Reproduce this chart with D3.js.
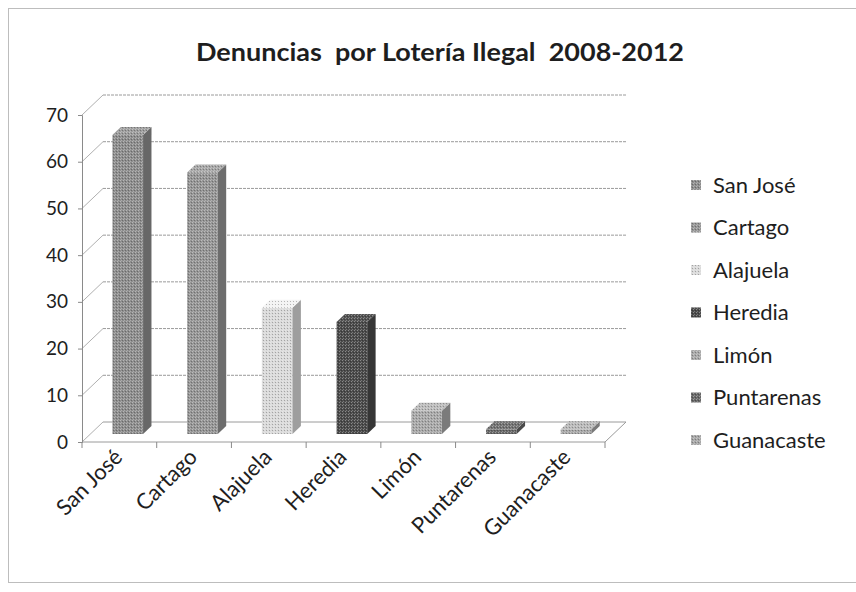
<!DOCTYPE html>
<html>
<head>
<meta charset="utf-8">
<script src="https://cdn.jsdelivr.net/npm/d3@7"></script>
<style>
  html, body { margin: 0; padding: 0; background: #fff; }
  svg { display: block; }
  text { font-family: Lato, "Open Sans", sans-serif; fill: #1e1e1e; }
</style>
</head>
<body>
<svg id="chart" width="856" height="592"></svg>
<script>
// ---- data ----
const title = "Denuncias  por Lotería Ilegal  2008-2012";
const categories = ["San José", "Cartago", "Alajuela", "Heredia", "Limón", "Puntarenas", "Guanacaste"];
const values = [64, 56, 27, 24, 5, 1, 1];
const yTicks = [0, 10, 20, 30, 40, 50, 60, 70];
const colors = ["#8e8e8e", "#969696", "#dadada", "#4b4b4b", "#a9a9a9", "#686868", "#a7a7a7"];

// ---- layout ----
const svg = d3.select("#chart");
const frontLeft = 82, frontRight = 605, frontBottom = 442, frontTop = 115;
const depthX = 21, depthY = -20;
const d1 = 0.4, d2 = 0.8;

const x = d3.scaleBand().domain(categories).range([frontLeft, frontRight]).paddingInner(0).paddingOuter(0);
const y = d3.scaleLinear().domain([0, 70]).range([frontBottom, frontTop]);

// frame
svg.append("rect").attr("x", 8.5).attr("y", 8.5).attr("width", 860).attr("height", 574)
  .attr("fill", "none").attr("stroke", "#bdbdbd").attr("stroke-width", 1);

// title
svg.append("text").attr("x", 440).attr("y", 61).attr("text-anchor", "middle")
  .attr("xml:space", "preserve").style("white-space", "pre")
  .attr("textLength", 488).attr("lengthAdjust", "spacingAndGlyphs")
  .style("font-size", "24px").style("font-weight", "bold").text(title);

const grid = svg.append("g");
yTicks.forEach(t => {
  const yy = y(t);
  grid.append("line")
    .attr("x1", frontLeft + depthX).attr("x2", frontRight + depthX)
    .attr("y1", yy + depthY).attr("y2", yy + depthY)
    .attr("stroke", "#9a9a9a").attr("stroke-width", 1).attr("stroke-dasharray", t === 0 ? null : "3,1");
  grid.append("line")
    .attr("x1", frontLeft).attr("x2", frontLeft + depthX)
    .attr("y1", yy).attr("y2", yy + depthY)
    .attr("stroke", "#b0b0b0").attr("stroke-width", 1);
});
grid.append("line").attr("x1", frontLeft).attr("x2", frontRight)
  .attr("y1", frontBottom).attr("y2", frontBottom).attr("stroke", "#9a9a9a");
grid.append("line").attr("x1", frontRight).attr("x2", frontRight + depthX)
  .attr("y1", frontBottom).attr("y2", frontBottom + depthY).attr("stroke", "#9a9a9a");
const bounds = categories.map(c => x(c)).concat([frontRight]);
bounds.forEach(bx => {
  grid.append("line").attr("x1", bx).attr("x2", bx)
    .attr("y1", frontBottom).attr("y2", frontBottom + 6).attr("stroke", "#8a8a8a");
});

// y axis (front)
const yAxis = d3.axisLeft(y).tickValues(yTicks).tickSize(4).tickPadding(10);
const gy = svg.append("g").attr("transform", `translate(${frontLeft},0)`).call(yAxis);
gy.select(".domain").attr("stroke", "#8a8a8a");
gy.selectAll(".tick line").attr("stroke", "#8a8a8a");
gy.selectAll(".tick text").style("font-size", "19px").style("font-family", "Lato, sans-serif").attr("fill", "#1e1e1e");

// texture pattern
const defs = svg.append("defs");
const pat = defs.append("pattern").attr("id", "dots").attr("width", 3).attr("height", 3)
  .attr("patternUnits", "userSpaceOnUse");
pat.append("rect").attr("x", 0).attr("y", 0).attr("width", 1).attr("height", 1).attr("fill", "#fff").attr("opacity", 0.35);
pat.append("rect").attr("x", 2).attr("y", 1).attr("width", 1).attr("height", 1).attr("fill", "#000").attr("opacity", 0.25);
pat.append("rect").attr("x", 1).attr("y", 2).attr("width", 1).attr("height", 1).attr("fill", "#fff").attr("opacity", 0.25);

// bars
const bw = x.bandwidth() * 0.41;
const bars = svg.append("g");
categories.forEach((c, i) => {
  const v = values[i];
  const col = d3.color(colors[i]);
  const xl = x(c) + (x.bandwidth() - bw) / 2;
  const fx = xl + d1 * depthX, fy = d1 * depthY;
  const ddx = (d2 - d1) * depthX, ddy = (d2 - d1) * depthY;
  const top = y(v) + fy, bot = y(0) + fy;
  const g = bars.append("g");
  g.append("rect").attr("x", fx).attr("y", top).attr("width", bw).attr("height", Math.max(0, bot - top))
    .attr("fill", col.formatHex());
  g.append("rect").attr("x", fx).attr("y", top).attr("width", bw).attr("height", Math.max(0, bot - top))
    .attr("fill", "url(#dots)");
  const side = [[fx + bw, top], [fx + bw + ddx, top + ddy], [fx + bw + ddx, bot + ddy], [fx + bw, bot]];
  g.append("polygon").attr("points", side.map(p => p.join(",")).join(" "))
    .attr("fill", col.darker(0.9).formatHex());
  const tp = [[fx, top], [fx + ddx, top + ddy], [fx + bw + ddx, top + ddy], [fx + bw, top]];
  g.append("polygon").attr("points", tp.map(p => p.join(",")).join(" "))
    .attr("fill", col.brighter(0.3).formatHex());
  g.append("polygon").attr("points", tp.map(p => p.join(",")).join(" "))
    .attr("fill", "url(#dots)");
});

// x axis labels
const xAxis = d3.axisBottom(x).tickSize(0).tickPadding(0);
const gx = svg.append("g").attr("transform", `translate(-1,${frontBottom + 11})`).call(xAxis);
gx.select(".domain").remove();
gx.selectAll(".tick text")
  .style("font-size", "22px").style("font-family", "Lato, sans-serif").attr("fill", "#1e1e1e")
  .attr("text-anchor", "end").attr("y", 0).attr("dy", "0.35em").attr("dx", 0)
  .attr("transform", "rotate(-45)");

// legend
const legend = svg.append("g");
const legY0 = 185, legStep = 42.5;
categories.forEach((c, i) => {
  const ly = legY0 + i * legStep;
  legend.append("rect").attr("x", 691).attr("y", ly - 5).attr("width", 10).attr("height", 10)
    .attr("fill", colors[i]);
  legend.append("rect").attr("x", 691).attr("y", ly - 5).attr("width", 10).attr("height", 10)
    .attr("fill", "url(#dots)");
  legend.append("text").attr("x", 713).attr("y", ly).attr("dy", "0.35em")
    .style("font-size", "22px").text(c);
});
</script>
</body>
</html>
